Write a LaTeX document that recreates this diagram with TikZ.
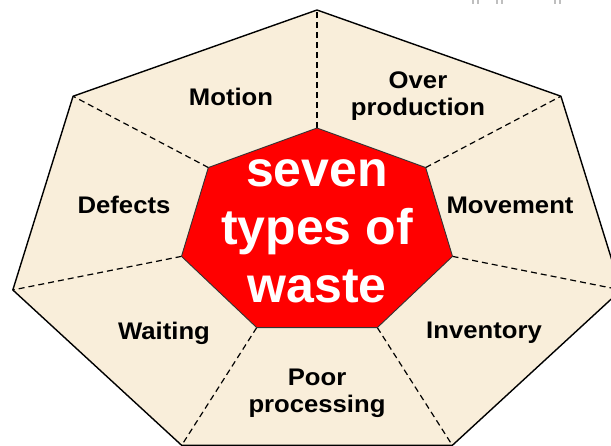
\documentclass[tikz,border=0pt]{standalone}
\usepackage{fontspec}
\setmainfont{Liberation Sans}
\definecolor{beige}{HTML}{F9EEDA}
\definecolor{wred}{HTML}{FF0000}
\begin{document}
\begin{tikzpicture}[x=1pt,y=-1pt,
  outerpoly/.style={fill=beige,draw=black,line width=1.4pt,line join=round},
  innerpoly/.style={fill=wred,draw=black!80,line width=0.9pt,line join=round},
  divider/.style={draw=black,line width=1.2pt,dash pattern=on 6pt off 4pt},
  lbl/.style={font=\fontsize{24}{27}\selectfont\bfseries,align=center,text=black,inner sep=0pt,xscale=1.07},
  title/.style={font=\fontsize{50}{58}\selectfont\bfseries,align=center,text=white,inner sep=0pt},
  tick/.style={draw=black!25,line width=1.2pt}]
\useasboundingbox (0,0) rectangle (611,445);
\clip (0,0) rectangle (611,445);
\foreach \k in {0,...,6}{
  \pgfmathsetmacro{\a}{90+\k*360/7}
  \coordinate (o\k) at ({317+312*cos(\a)},{239-229*sin(\a)});
  \coordinate (i\k) at ({317+139*cos(\a)},{233-105*sin(\a)});
}
\path[outerpoly] (o0)--(o1)--(o2)--(o3)--(o4)--(o5)--(o6)--cycle;
\foreach \k in {0,...,6}{ \draw[divider] (i\k) -- (o\k); }
\path[innerpoly] (i0)--(i1)--(i2)--(i3)--(i4)--(i5)--(i6)--cycle;
\node[title] (center) at (317,231) {seven\\types of\\waste};
\node[lbl] (motion) at (231,97) {Motion};
\node[lbl] (over) at (418,96) {Over\\production};
\node[lbl] (defects) at (124,205) {Defects};
\node[lbl] (movement) at (510,205) {Movement};
\node[lbl] (waiting) at (164,333) {Waiting};
\node[lbl] (inventory) at (484,333) {Inventory};
\node[lbl] (poor) at (317,393) {Poor\\processing};
\foreach \x in {473,478,497,502,555,560}{ \draw[tick] (\x,0) -- (\x,4); }
\end{tikzpicture}
\end{document}
